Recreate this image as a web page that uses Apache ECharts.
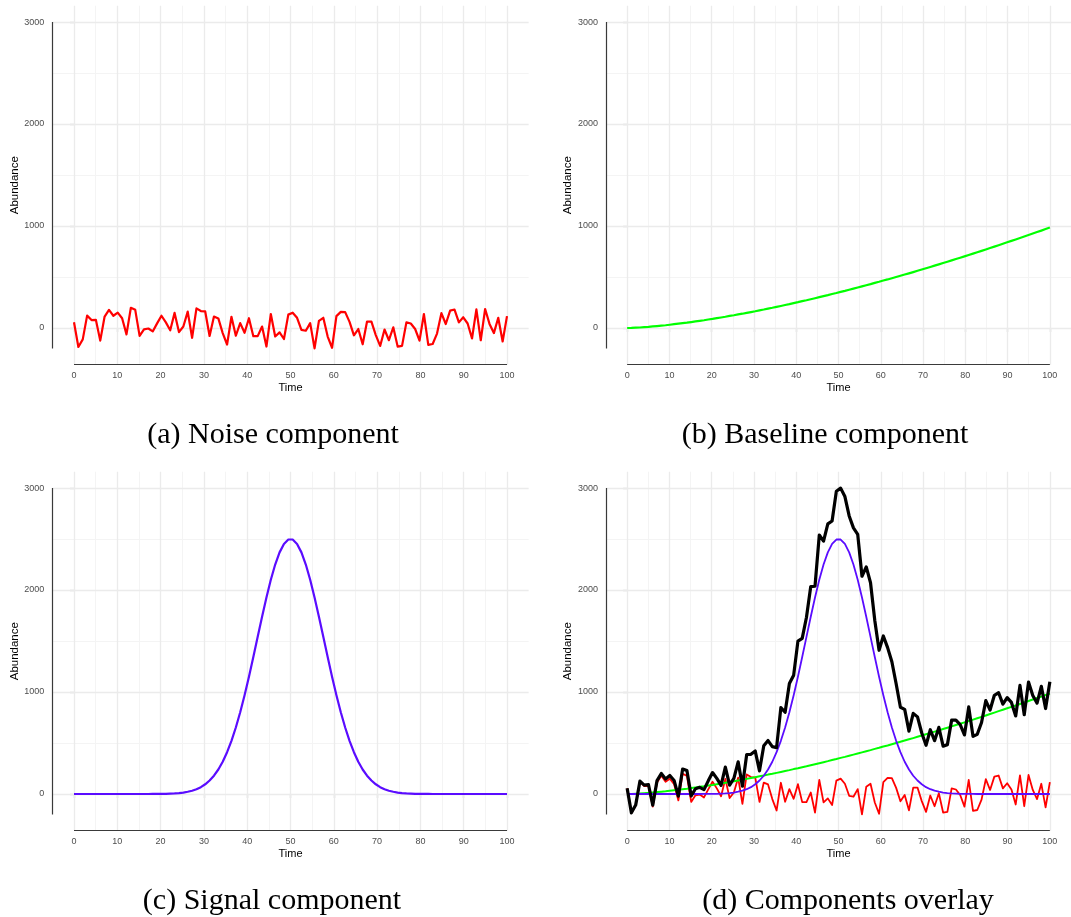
<!DOCTYPE html>
<html>
<head>
<meta charset="utf-8">
<script src="https://cdn.jsdelivr.net/npm/echarts@6/dist/echarts.min.js"></script>
<style>
  html, body { margin: 0; padding: 0; background: #ffffff; }
  #chart { width: 1071px; height: 917px; }
</style>
</head>
<body>
<div id="chart"></div>
<script>
// Simulated chromatogram components, sampled at 100 evenly spaced time points (0 .. 100)
const NOISE = [
  56, -186, -112, 121, 78, 80, -124, 112, 178, 120,
  150, 96, -63, 198, 178, -78, -13, -5, -34, 45,
  120, 55, -22, 148, -40, 14, 160, -96, 192, 166,
  162, -78, 112, 94, -50, -162, 110, -76, 48, -47,
  96, -80, -80, 14, -182, 137, -83, -43, -108, 131,
  150, 100, -18, -27, 48, -200, 70, 100, -84, -194,
  116, 158, 156, 60, -72, -10, -160, 63, 63, -70,
  -176, -15, -120, 7, -182, -175, 55, 44, -10, -124,
  137, -165, -157, -55, 145, 39, 170, 181, 55, 105,
  44, -103, 183, -120, 186, 40, -50, 100, -132, 116
];
const BASELINE = [
  0, 1, 3, 5, 8, 11, 15, 19, 23, 27,
  32, 37, 42, 47, 52, 58, 64, 70, 76, 83,
  89, 96, 103, 110, 118, 125, 133, 140, 148, 156,
  164, 173, 181, 190, 198, 207, 216, 225, 234, 244,
  253, 263, 272, 282, 292, 302, 312, 322, 333, 343,
  354, 364, 375, 386, 397, 408, 419, 430, 442, 453,
  465, 476, 488, 500, 512, 524, 536, 548, 561, 573,
  586, 598, 611, 624, 637, 650, 663, 676, 689, 702,
  716, 729, 743, 756, 770, 784, 798, 812, 826, 840,
  854, 868, 882, 897, 911, 926, 941, 955, 970, 985
];
const SIGNAL = [
  0, 0, 0, 0, 0, 0, 0, 0, 0, 0,
  0, 0, 0, 0, 0, 0, 0, 0, 1, 1,
  1, 2, 4, 6, 9, 14, 22, 32, 47, 67,
  95, 132, 179, 240, 316, 410, 521, 652, 801, 968,
  1150, 1343, 1541, 1738, 1927, 2100, 2250, 2369, 2452, 2495,
  2495, 2452, 2369, 2250, 2100, 1927, 1738, 1541, 1343, 1150,
  968, 801, 652, 521, 410, 316, 240, 179, 132, 95,
  67, 47, 32, 22, 14, 9, 6, 4, 2, 1,
  1, 1, 0, 0, 0, 0, 0, 0, 0, 0,
  0, 0, 0, 0, 0, 0, 0, 0, 0, 0
];

const TIME_LIMITS = [0, 100];
const VALUE_LIMITS = [-200, 3000];
const X_TICKS = [0, 10, 20, 30, 40, 50, 60, 70, 80, 90, 100];
const X_MINOR = [5, 15, 25, 35, 45, 55, 65, 75, 85, 95];
const Y_TICKS = [0, 1000, 2000, 3000];
const Y_MINOR = [500, 1500, 2500];
const CAPTIONS = [
  '(a) Noise component',
  '(b) Baseline component',
  '(c) Signal component',
  '(d) Components overlay'
];

// sampling grid and the summed chromatogram
const TIME = NOISE.map((_, i) =>
  TIME_LIMITS[0] + i * (TIME_LIMITS[1] - TIME_LIMITS[0]) / (NOISE.length - 1));
const TOTAL = NOISE.map((v, i) => v + BASELINE[i] + SIGNAL[i]);
const asPoints = arr => arr.map((v, i) => [TIME[i], v]);

// 5% padding on both scales
const xSpan = TIME_LIMITS[1] - TIME_LIMITS[0];
const ySpan = VALUE_LIMITS[1] - VALUE_LIMITS[0];
const X_MIN = TIME_LIMITS[0] - 0.05 * xSpan, X_MAX = TIME_LIMITS[1] + 0.05 * xSpan;
const Y_MIN = VALUE_LIMITS[0] - 0.05 * ySpan, Y_MAX = VALUE_LIMITS[1] + 0.05 * ySpan;

const RED = '#ff0000', GREEN = '#00ff00', PURPLE = '#5a0cff', BLACK = '#000000';
const SANS = '"Liberation Sans", Arial, sans-serif';
const AXIS_COLOR = '#3a3a3a';
const GRID_MAJOR = '#ebebeb', GRID_MINOR = '#f4f4f4';

const PANEL_W = 476.3, PANEL_H = 359;
const PANELS = [
  { left: 52.35, top: 5.7, capX: 273, capY: 435,
    lines: [{ data: NOISE, color: RED, width: 2.2 }] },
  { left: 606, top: 5.7, capX: 825, capY: 435,
    lines: [{ data: BASELINE, color: GREEN, width: 2.2 }] },
  { left: 52.35, top: 471.7, capX: 272, capY: 901,
    lines: [{ data: SIGNAL, color: PURPLE, width: 2.2 }] },
  { left: 606, top: 471.7, capX: 848, capY: 901,
    lines: [
      { data: NOISE, color: RED, width: 1.8 },
      { data: BASELINE, color: GREEN, width: 2 },
      { data: SIGNAL, color: PURPLE, width: 1.8 },
      { data: TOTAL, color: BLACK, width: 3.2 }
    ] }
];

const plainNumber = v => String(v);

const grid = [], xAxis = [], yAxis = [], series = [], graphic = [];

PANELS.forEach((p, k) => {
  grid.push({ left: p.left, top: p.top, width: PANEL_W, height: PANEL_H, containLabel: false });

  xAxis.push({
    type: 'value', gridIndex: k, min: X_MIN, max: X_MAX, interval: 5,
    axisLine: { show: false },
    splitLine: { show: false },
    axisTick: { show: true, customValues: X_TICKS, length: 4,
      lineStyle: { color: AXIS_COLOR, width: 1.1 } },
    axisLabel: { customValues: X_TICKS, margin: 6, fontSize: 9, formatter: plainNumber,
      color: '#4d4d4d', fontFamily: SANS },
    name: 'Time', nameLocation: 'middle', nameGap: 18,
    nameTextStyle: { fontSize: 11, color: '#000', fontFamily: SANS }
  });

  yAxis.push({
    type: 'value', gridIndex: k, min: Y_MIN, max: Y_MAX,
    axisLine: { show: false },
    splitLine: { show: false },
    axisTick: { show: true, customValues: Y_TICKS, length: 4,
      lineStyle: { color: AXIS_COLOR, width: 1.1 } },
    axisLabel: { customValues: Y_TICKS, margin: 8, fontSize: 9, formatter: plainNumber,
      color: '#4d4d4d', fontFamily: SANS },
    name: 'Abundance', nameLocation: 'middle', nameGap: 31,
    nameTextStyle: { fontSize: 11.5, color: '#000', fontFamily: SANS }
  });

  // panel grid lines and range-frame axis lines
  const marks = [];
  Y_MINOR.forEach(v => marks.push({ yAxis: v, lineStyle: { color: GRID_MINOR, width: 1, type: 'solid' } }));
  X_MINOR.forEach(v => marks.push({ xAxis: v, lineStyle: { color: GRID_MINOR, width: 1, type: 'solid' } }));
  Y_TICKS.forEach(v => marks.push({ yAxis: v, lineStyle: { color: GRID_MAJOR, width: 1.3, type: 'solid' } }));
  X_TICKS.forEach(v => marks.push({ xAxis: v, lineStyle: { color: GRID_MAJOR, width: 1.3, type: 'solid' } }));
  marks.push([
    { coord: [X_MIN, VALUE_LIMITS[0]], lineStyle: { color: AXIS_COLOR, width: 1.2, type: 'solid' } },
    { coord: [X_MIN, VALUE_LIMITS[1]] }
  ]);
  marks.push([
    { coord: [TIME_LIMITS[0], Y_MIN], lineStyle: { color: AXIS_COLOR, width: 1.2, type: 'solid' } },
    { coord: [TIME_LIMITS[1], Y_MIN] }
  ]);

  series.push({
    type: 'line', xAxisIndex: k, yAxisIndex: k, data: [], z: 1, silent: true, clip: false,
    markLine: { silent: true, z: 1, symbol: ['none', 'none'], label: { show: false },
      emphasis: { disabled: true }, animation: false, data: marks }
  });

  p.lines.forEach((ln, j) => {
    series.push({
      type: 'line', xAxisIndex: k, yAxisIndex: k, z: 10 + j,
      data: asPoints(ln.data), showSymbol: false, symbol: 'none', silent: true,
      lineStyle: { color: ln.color, width: ln.width, join: 'round' },
      emphasis: { disabled: true }
    });
  });

  graphic.push({
    type: 'text', x: p.capX, y: p.capY, silent: true,
    style: { text: CAPTIONS[k], fill: '#000', textAlign: 'center', textVerticalAlign: 'middle',
      font: '30px "Liberation Serif", "Times New Roman", serif' }
  });
});

const chart = echarts.init(document.getElementById('chart'), null, { renderer: 'canvas' });
chart.setOption({
  backgroundColor: '#ffffff',
  animation: false,
  grid, xAxis, yAxis, series, graphic
});
</script>
</body>
</html>
